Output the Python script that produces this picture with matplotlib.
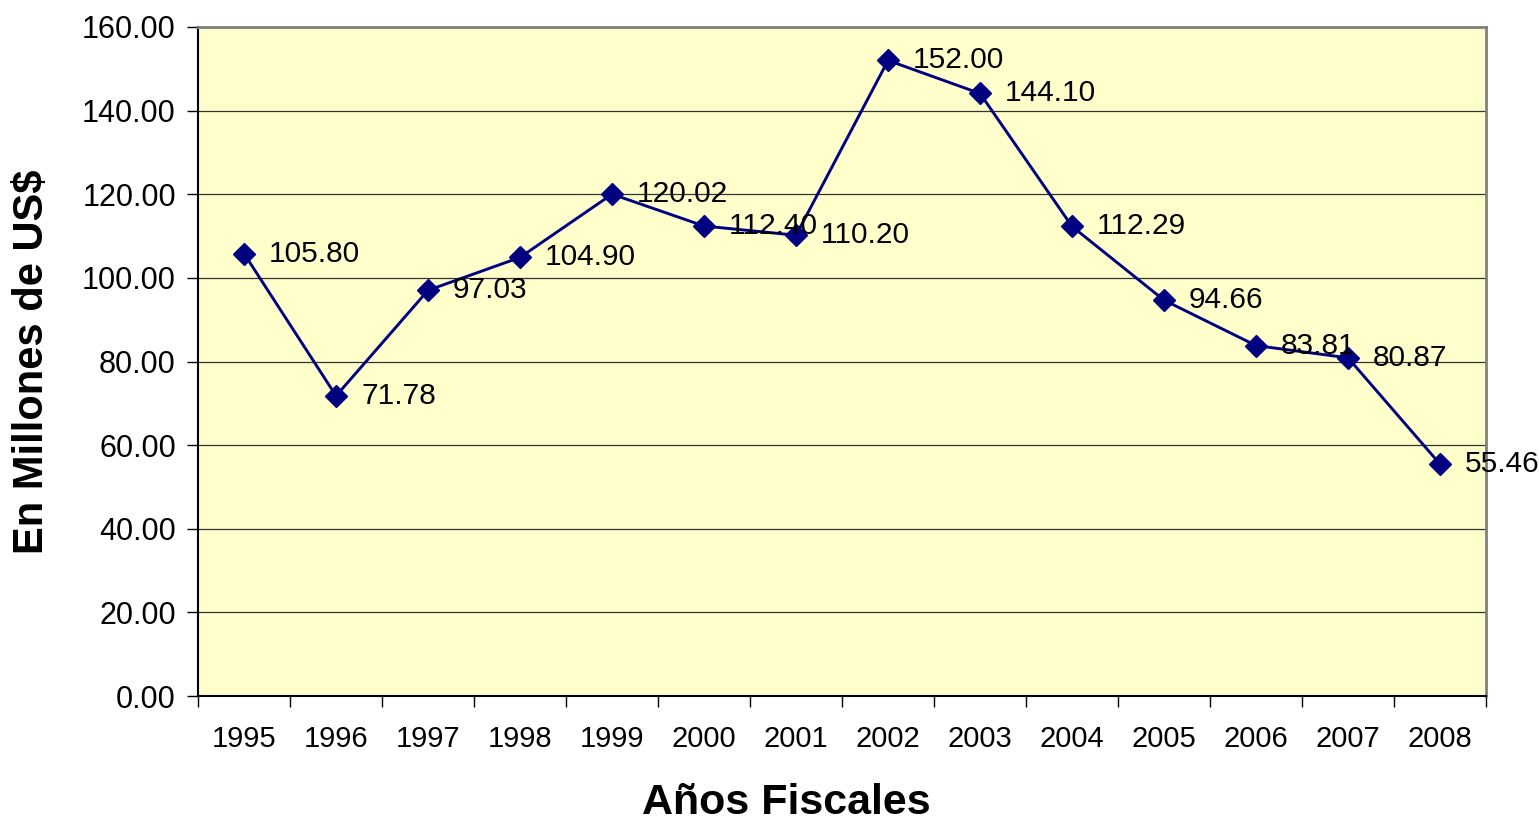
import matplotlib
matplotlib.use("Agg")
import matplotlib.pyplot as plt
import numpy as np

years = ["1995", "1996", "1997", "1998", "1999", "2000", "2001",
         "2002", "2003", "2004", "2005", "2006", "2007", "2008"]
values = [105.80, 71.78, 97.03, 104.90, 120.02, 112.40, 110.20,
          152.00, 144.10, 112.29, 94.66, 83.81, 80.87, 55.46]
y_ticks = [0, 20, 40, 60, 80, 100, 120, 140, 160]

plt.rcParams["font.family"] = ["Liberation Sans", "DejaVu Sans"]

fig = plt.figure(figsize=(15.39, 8.23), dpi=100)
ax = fig.add_axes([0.1287, 0.1543, 0.8369, 0.8129])
ax.set_facecolor("#FFFFCC")

x = np.arange(len(years))
ax.plot(x, values, color="#000080", linewidth=2.1, marker="D",
        markersize=11.5, markerfacecolor="#000080", markeredgecolor="#000080",
        zorder=3)

for xi, v in zip(x, values):
    ax.annotate(f"{v:.2f}", xy=(xi, v), xytext=(18, 0),
                textcoords="offset points", ha="left", va="center",
                fontsize=21.5, color="black", clip_on=False, zorder=4)

ax.set_xlim(-0.5, len(years) - 0.5)
ax.set_ylim(0, 160)
ax.set_yticks(y_ticks)
ax.set_yticklabels([f"{t:.2f}" for t in y_ticks], fontsize=22)
ax.yaxis.grid(True, color="#333333", linewidth=0.9)
ax.set_axisbelow(True)

ax.set_xticks(x)
ax.set_xticklabels(years, fontsize=21)
ax.set_xticks(np.arange(-0.5, len(years)), minor=True)
ax.tick_params(axis="x", which="major", length=0, pad=21)
ax.tick_params(axis="x", which="minor", length=8, width=1, color="black")
ax.tick_params(axis="y", length=8, width=1, pad=8)

for side in ("left", "bottom"):
    ax.spines[side].set_color("black")
    ax.spines[side].set_linewidth(1.5)
for side in ("top", "right"):
    ax.spines[side].set_color("#808080")
    ax.spines[side].set_linewidth(2)

# axis titles are centred on the whole chart area, not the plot area
fig.text(0.511, 0.024, "Años Fiscales", fontsize=31, fontweight="bold",
         ha="center", va="center")
fig.text(0.021, 0.561, "En Millones de US$", fontsize=30, fontweight="bold",
         ha="center", va="center", rotation=90)

fig.savefig("out.png", dpi=100)
